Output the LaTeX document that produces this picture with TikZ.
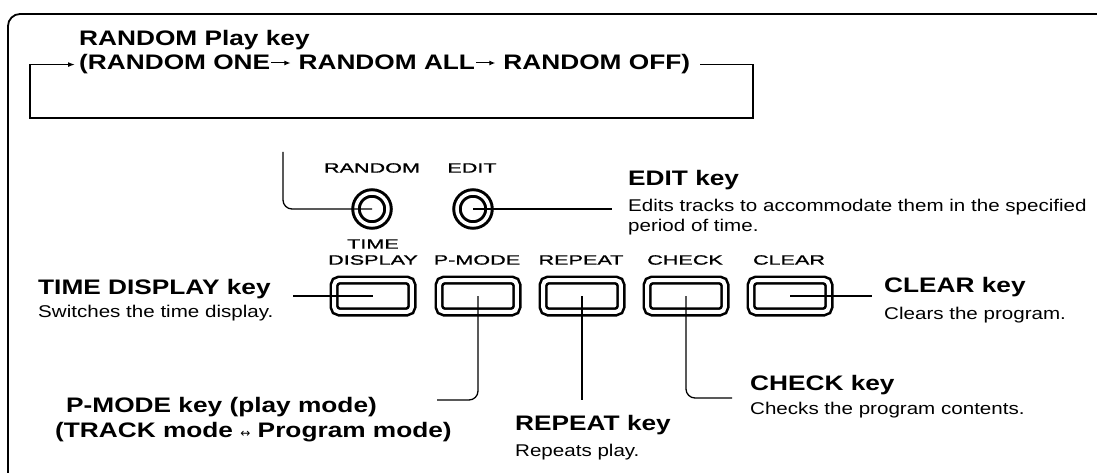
\documentclass[tikz,border=0pt]{standalone}
\usepackage{fontspec}
\setmainfont{Liberation Sans}
\newfontfamily\headfont[FakeStretch=1.25,UprightFont={* Bold}]{Liberation Sans}
\newfontfamily\descfont[FakeStretch=1.21]{Liberation Sans}
\newfontfamily\panelfont[FakeStretch=1.6,FakeBold=1.2]{Liberation Sans}
\newfontfamily\arrowfont{DejaVu Sans}
\newcommand{\lra}{{\arrowfont\fontsize{12}{16}\selectfont ↔}}
\usetikzlibrary{arrows.meta, positioning}

\begin{document}
\begin{tikzpicture}[x=1pt, y=-1pt,
    head/.style={anchor=west, inner sep=0pt, font=\headfont\fontsize{21}{24}\selectfont},
    desc/.style={anchor=west, inner sep=0pt, font=\descfont\fontsize{17}{20}\selectfont},
    panel/.style={inner sep=0pt, font=\panelfont\fontsize{13.5}{16}\selectfont},
    knob/.style={circle, draw=black, line width=3pt, double=white, double distance=3.5pt, minimum size=32pt, inner sep=0pt},
    keycap/.style={rectangle, rounded corners=5pt, draw=black, line width=2.6pt, double=white, double distance=4pt, minimum width=77.8pt, minimum height=31.8pt, inner sep=0pt},
    leader/.style={line width=1.3pt, rounded corners=9pt},
    textarrow/.style={line width=1pt, -{Latex[length=6pt, width=5pt]}}]
    \useasboundingbox (0,0) rectangle (1097,473);

    % frame
    \draw[line width=1.8pt, rounded corners=12pt] (8,473) -- (8,14) -- (1097,14);

    \node[head] (randhead) at (79,40) {RANDOM Play key};
    \node[head, anchor=base west] (rone) at (79,70) {(RANDOM ONE};
    \node[head, base right=28pt of rone] (rall) {RANDOM ALL};
    \node[head, base right=28pt of rall] (roff) {RANDOM OFF)};
    \draw[textarrow] ([xshift=1pt, yshift=7pt]rone.base east) -- ([xshift=-8pt, yshift=7pt]rall.base west);
    \draw[textarrow] ([xshift=1pt, yshift=7pt]rall.base east) -- ([xshift=-8pt, yshift=7pt]roff.base west);

    \node[panel] (randlbl) at (372,168) {RANDOM};
    \node[panel] (editlbl) at (472,168) {EDIT};
    \node[knob] (random) at (372,209) {};
    \node[knob] (edit) at (473,209) {};

    \node[panel] (timelbl) at (373,244) {TIME};
    \node[panel] (displbl) at (373,260) {DISPLAY};
    \node[panel] (pmodelbl) at (477,260) {P-MODE};
    \node[panel] (repeatlbl) at (581,260) {REPEAT};
    \node[panel] (checklbl) at (685,260) {CHECK};
    \node[panel] (clearlbl) at (789,260) {CLEAR};

    \node[keycap] (tdkey) at (373,296) {};
    \node[keycap] (pmode) at (478,296) {};
    \node[keycap] (repeat) at (582,296) {};
    \node[keycap] (check) at (686,296) {};
    \node[keycap] (clear) at (790,296) {};

    \node[head] (editkey) at (628,180) {EDIT key};
    \node[desc] (editdesc) at (628,207) {Edits tracks to accommodate them in the specified};
    \node[desc] (editdesc2) at (628,227) {period of time.};
    \node[head] (tdkeytxt) at (38,289) {TIME DISPLAY key};
    \node[desc] (tddesc) at (38,313) {Switches the time display.};
    \node[head] (clearkey) at (884,287) {CLEAR key};
    \node[desc] (cleardesc) at (884,315) {Clears the program.};
    \node[head] (checkkey) at (750,385) {CHECK key};
    \node[desc] (checkdesc) at (750,410) {Checks the program contents.};
    \node[head] (pmodekey) at (66,407) {P-MODE key (play mode)};
    \node[head] (pmodeline) at (55,432) {(TRACK mode \lra\ Program mode)};
    \node[head] (repeatkey) at (515,425) {REPEAT key};
    \node[desc] (repeatdesc) at (515,452) {Repeats play.};

    \coordinate (looptop) at (283,152);
    \coordinate (loopR) at (753,118);
    \coordinate (loopL) at (30,118);
    \coordinate (editend) at (612,209);
    \coordinate (tdend) at (293,296);
    \coordinate (clearend) at (872,296);
    \coordinate (pmodeend) at (437,400);
    \coordinate (repeatend) at (582,400);
    \coordinate (checkend) at (732,398);

    \draw[line width=1.3pt, -{Latex[length=7pt, width=5pt]}, shorten <=10pt, shorten >=4pt] (roff.east) -| (loopR) -- (loopL) |- (rone.west);
    \draw[leader] (looptop) |- (random.center);
    \draw[leader] (edit.center) -- (editend);
    \draw[leader] (tdend) -- (tdkey.center);
    \draw[leader] (clear.center) -- (clearend);
    \draw[leader] (pmode.center) |- (pmodeend);
    \draw[leader] (repeat.center) -- (repeatend);
    \draw[leader] (check.center) |- (checkend);

\end{tikzpicture}
\end{document}
